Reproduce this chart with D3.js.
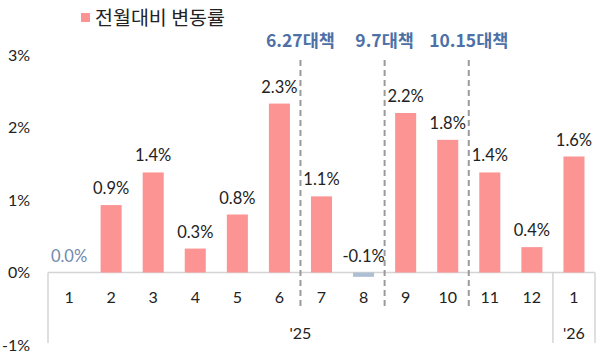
<!DOCTYPE html>
<html><head><meta charset="utf-8">
<script src="https://cdn.jsdelivr.net/npm/d3@7"></script>
<style>
body{margin:0;background:#fff;}
svg{display:block;}
</style></head>
<body><svg id="c" width="600" height="355"></svg>
<script>
const categories = ["1","2","3","4","5","6","7","8","9","10","11","12","1"];
const values = [0.0, 0.93, 1.38, 0.33, 0.8, 2.33, 1.05, -0.06, 2.2, 1.83, 1.38, 0.35, 1.6];
const valueLabels = ["0.0%","0.9%","1.4%","0.3%","0.8%","2.3%","1.1%","-0.1%","2.2%","1.8%","1.4%","0.4%","1.6%"];
const yTicks = [-1, 0, 1, 2, 3];
const yearLabels = [{label:"'25", from:0, to:12}, {label:"'26", from:12, to:13}];
const policies = [{label:"6.27대책", after:6}, {label:"9.7대책", after:8}, {label:"10.15대책", after:10}];
const legendLabel = "전월대비 변동률";

const svg = d3.select("#c");
const numFont = "Lato, 'Open Sans', sans-serif";
const krFont = "'Noto Sans CJK KR', sans-serif";

const x = d3.scaleBand().domain(d3.range(categories.length)).range([48, 595]).paddingInner(0.5).paddingOuter(0.25);
const y = d3.scaleLinear().domain([-1, 3]).range([345, 55]);
const bw = x.step();
const edge = i => 48 + i * bw;

// y tick labels
svg.append("g").selectAll("text").data(yTicks).join("text")
  .attr("x", 30).attr("y", d => y(d)).attr("dy", "0.35em")
  .attr("text-anchor", "end").attr("font-family", numFont).attr("font-size", 16).attr("fill", "#222")
  .text(d => d + "%");

// axis lines
const axisColor = "#d4d4d4";
svg.append("line").attr("x1", 48).attr("x2", 595).attr("y1", y(0)).attr("y2", y(0)).attr("stroke", axisColor).attr("stroke-width", 1.5);
[0, 12, 13].forEach(i => {
  svg.append("line").attr("x1", edge(i)).attr("x2", edge(i)).attr("y1", y(0)).attr("y2", 343).attr("stroke", axisColor).attr("stroke-width", 1.5);
});

// bars
svg.append("g").selectAll("rect").data(values).join("rect")
  .attr("x", (d, i) => x(i)).attr("width", x.bandwidth())
  .attr("y", d => y(Math.max(0, d))).attr("height", d => Math.abs(y(d) - y(0)))
  .attr("fill", d => d < 0 ? "#aebfd4" : "#fc9494");

// value labels
svg.append("g").selectAll("text").data(values).join("text")
  .attr("x", (d, i) => x(i) + x.bandwidth() / 2)
  .attr("y", d => y(Math.max(0, d)) - 11)
  .attr("text-anchor", "middle").attr("font-family", numFont).attr("font-size", 16.5)
  .attr("fill", (d, i) => valueLabels[i] === "0.0%" ? "#7089ab" : "#222")
  .text((d, i) => valueLabels[i]);

// category labels
svg.append("g").selectAll("text").data(categories).join("text")
  .attr("x", (d, i) => x(i) + x.bandwidth() / 2).attr("y", 297).attr("dy", "0.35em")
  .attr("text-anchor", "middle").attr("font-family", numFont).attr("font-size", 16).attr("fill", "#222")
  .text(d => d);

// year labels
svg.append("g").selectAll("text").data(yearLabels).join("text")
  .attr("x", d => (edge(d.from) + edge(d.to)) / 2)
  .attr("y", 333).attr("dy", "0.35em")
  .attr("text-anchor", "middle").attr("font-family", numFont).attr("font-size", 16).attr("fill", "#222")
  .text(d => d.label);

// policy dashed lines and labels
policies.forEach(p => {
  const px = edge(p.after);
  svg.append("line").attr("x1", px).attr("x2", px).attr("y1", 60).attr("y2", 309)
    .attr("stroke", "#9a9a9a").attr("stroke-width", 2).attr("stroke-dasharray", "6,4");
  svg.append("text").attr("x", px).attr("y", 47).attr("text-anchor", "middle")
    .attr("font-family", krFont).attr("font-weight", "bold").attr("font-size", 17.5).attr("fill", "#4d70a6")
    .text(p.label);
});

// legend
svg.append("rect").attr("x", 81).attr("y", 13).attr("width", 9).attr("height", 9).attr("fill", "#fc9494");
svg.append("text").attr("x", 95).attr("y", 18).attr("dy", "0.35em")
  .attr("font-family", krFont).attr("font-size", 19.5).attr("fill", "#222").text(legendLabel);
</script></body></html>
